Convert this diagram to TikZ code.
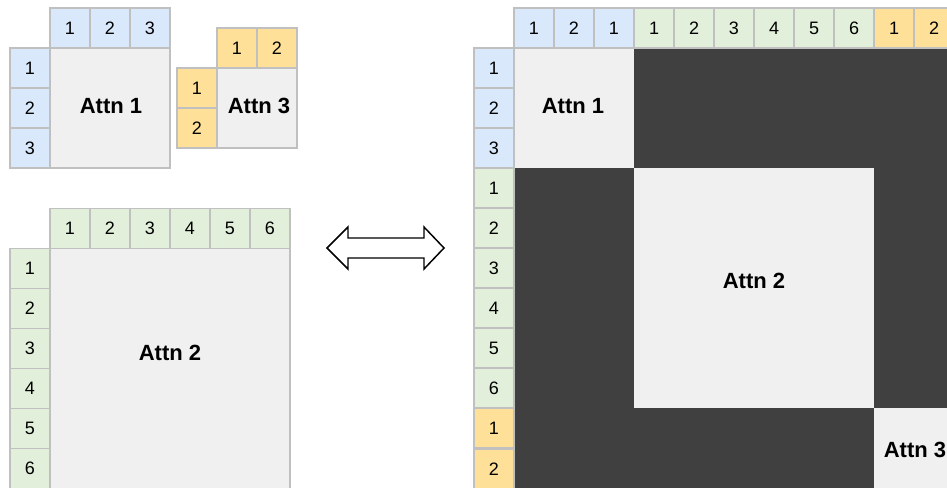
\documentclass[tikz,border=0pt]{standalone}
\usepackage{fontspec}
\setmainfont{Liberation Sans}
\definecolor{cblue}{HTML}{DAE8FC}
\definecolor{cgreen}{HTML}{E2EFDA}
\definecolor{cyellow}{HTML}{FEE098}
\definecolor{cborder}{HTML}{C0C0C0}
\definecolor{cblock}{HTML}{F0F0F0}
\definecolor{cdark}{HTML}{404040}
\begin{document}
\begin{tikzpicture}[x=0.75pt,y=-0.75pt,
  cell/.style={draw=cborder,line width=1.1pt,minimum width=30pt,minimum height=30pt,inner sep=0pt,
    font=\fontsize{13.5}{16}\selectfont},
  bcell/.style={cell,fill=cblue},
  gcell/.style={cell,fill=cgreen},
  ycell/.style={cell,fill=cyellow},
  block/.style={draw=cborder,line width=1.1pt,fill=cblock,inner sep=0pt},
  mblock/.style={fill=cblock,inner sep=0pt},
  lab/.style={font=\fontsize{16.5}{19}\selectfont\bfseries,inner sep=0pt},
  bigarrow/.style={draw=black,line width=1.1pt,fill=white,line join=miter}
]
\useasboundingbox (0,0) rectangle (947,487);
\clip (0,0) rectangle (947,487);
% ---------- left: Attn 1 ----------
\node[block,minimum width=90pt,minimum height=90pt] (a1) at (110,108) {};
\foreach \t [count=\i from 0] in {1,2,3} {
  \node[bcell] (a1c\i) at (70+40*\i,28) {\t};
  \node[bcell] (a1r\i) at (30,68+40*\i) {\t};
}
\node[lab] (a1l) at (111,106) {Attn 1};
% ---------- left: Attn 3 ----------
\node[block,minimum width=60pt,minimum height=60pt] (a3) at (257,108) {};
\foreach \t [count=\i from 0] in {1,2} {
  \node[ycell] (a3c\i) at (237+40*\i,48) {\t};
  \node[ycell] (a3r\i) at (197,88+40*\i) {\t};
}
\node[lab] (a3l) at (259,106) {Attn 3};
% ---------- left: Attn 2 ----------
\node[block,minimum width=180pt,minimum height=180pt] (a2) at (170,368.5) {};
\foreach \t [count=\i from 0] in {1,2,3,4,5,6} {
  \node[gcell] (a2c\i) at (70+40*\i,228.5) {\t};
  \node[gcell] (a2r\i) at (30,268.5+40*\i) {\t};
}
\node[lab] (a2l) at (170,353) {Attn 2};
% ---------- double arrow ----------
\draw[bigarrow] (327,248) -- (348,227) -- (348,238) -- (424,238) -- (424,227)
  -- (444,248) -- (424,269) -- (424,258) -- (348,258) -- (348,269) -- cycle;
% ---------- right: combined mask ----------
\fill[cdark] (514,48) rectangle (954,490);
\node[mblock,minimum width=90pt,minimum height=90pt] (m1) at (574,108) {};
\node[mblock,minimum width=180pt,minimum height=180pt] (m2) at (754,288) {};
\node[mblock,minimum width=60pt,minimum height=61.5pt] (m3) at (914,449) {};
\foreach \t/\s [count=\i from 0] in {1/bcell,2/bcell,1/bcell,1/gcell,2/gcell,3/gcell,4/gcell,5/gcell,6/gcell,1/ycell,2/ycell} {
  \node[\s] (mc\i) at (534+40*\i,28) {\t};
}
\foreach \t/\s [count=\i from 0] in {1/bcell,2/bcell,3/bcell,1/gcell,2/gcell,3/gcell,4/gcell,5/gcell,6/gcell,1/ycell} {
  \node[\s] (mr\i) at (494,68+40*\i) {\t};
}
\node[ycell] (mr10) at (494,469.5) {2};
\node[lab] (m1l) at (573,106) {Attn 1};
\node[lab] (m2l) at (754,281) {Attn 2};
\node[lab] (m3l) at (915,450) {Attn 3};
\end{tikzpicture}
\end{document}
